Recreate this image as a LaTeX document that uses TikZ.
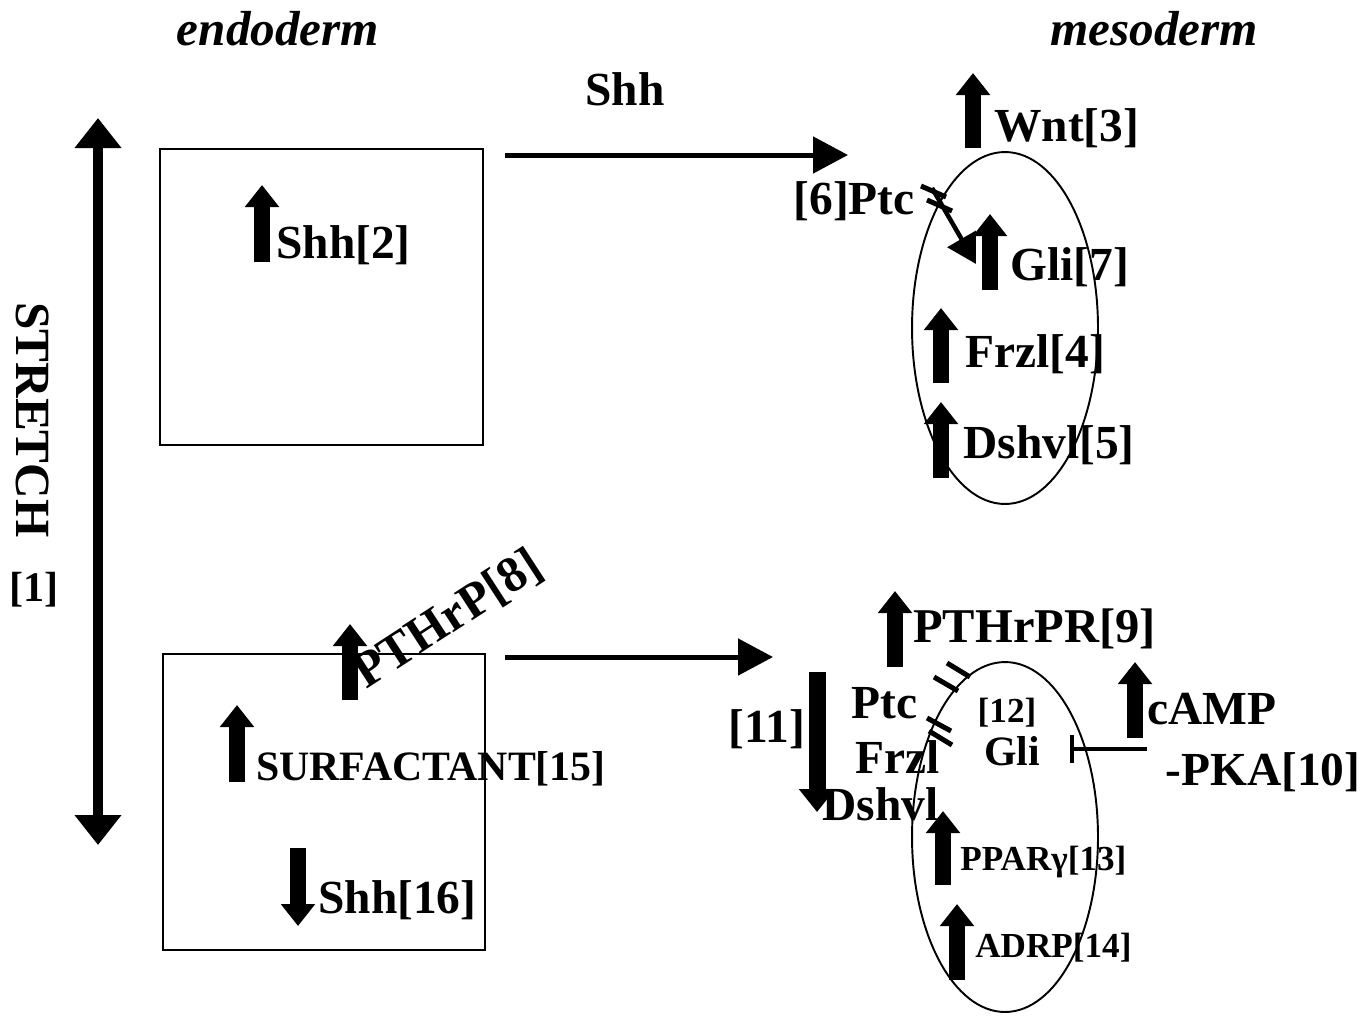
\documentclass[tikz,border=0pt]{standalone}
\usepackage{fontspec}
\setmainfont{Liberation Serif}
\usetikzlibrary{arrows.meta,shapes.geometric}
\begin{document}
\begin{tikzpicture}[x=0.02cm,y=-0.02cm,
  lbl/.style={font=\fontsize{27}{30}\selectfont\bfseries, inner sep=0pt, anchor=base west},
  mlbl/.style={font=\fontsize{23.8}{26}\selectfont\bfseries, inner sep=0pt, anchor=base west},
  slbl/.style={font=\fontsize{20}{24}\selectfont\bfseries, inner sep=0pt, anchor=base west},
  ttl/.style={font=\fontsize{28}{30}\selectfont\bfseries\itshape, inner sep=0pt, anchor=base},
  blk/.style={line width=0.32cm, -{Triangle[length=0.44cm,width=0.66cm]}},
  flow/.style={line width=0.1cm, -{Triangle[length=0.7cm,width=0.72cm]}},
  stretcharr/.style={line width=0.2cm, {Triangle[length=0.6cm,width=0.9cm]}-{Triangle[length=0.6cm,width=0.9cm]}},
  hashln/.style={line width=0.1cm},
  frame/.style={draw, line width=1.2pt, inner sep=0pt},
]
\useasboundingbox (0,0) rectangle (1371,1015);

% titles
\node[ttl] (endo) at (278,45) {endoderm};
\node[ttl] (meso) at (1154,45) {mesoderm};

% stretch
\coordinate (st1) at (98,845);
\coordinate (st2) at (98,118);
\draw[stretcharr] (st1) -- (st2);
\node[font=\fontsize{28}{30}\selectfont\bfseries, rotate=-90, inner sep=0pt] (stretch) at (33,420) {STRETCH};
\node[font=\fontsize{24}{28}\selectfont\bfseries, inner sep=0pt] (ref1) at (34,590) {[1]};

% boxes
\node[frame, minimum width=6.46cm, minimum height=5.92cm] (box1) at (321.5,297) {};
\node[frame, minimum width=6.44cm, minimum height=5.92cm] (box2) at (324,802) {};

% ellipses
\node[draw, ellipse, line width=1.1pt, inner sep=0pt, minimum width=3.72cm, minimum height=7.04cm] (ell1) at (1005,328) {};
\node[draw, ellipse, line width=1.1pt, inner sep=0pt, minimum width=3.72cm, minimum height=7.0cm] (ell2) at (1005,837) {};

% main flow arrows
\coordinate (f1s) at (505,155);
\coordinate (f1e) at (848,155);
\draw[flow] (f1s) -- (f1e);
\node[lbl, anchor=base] (shhtop) at (625,105) {Shh};
\coordinate (f2s) at (505,657);
\coordinate (f2e) at (773,657);
\draw[flow] (f2s) -- (f2e);

% top endoderm
\draw[blk] (262,262) -- (262,185);
\node[lbl] (shh2) at (276,258) {Shh[2]};

% top mesoderm
\draw[blk] (973,148) -- (973,73);
\node[lbl] (wnt) at (994,141) {Wnt[3]};
\node[lbl, anchor=base east] (ptc6) at (915,214) {[6]Ptc};
\coordinate (pa) at (932,188);
\coordinate (pb) at (976,264);
\draw[line width=0.09cm, -{Triangle[length=0.58cm,width=0.64cm]}] (pa) -- (pb);
\draw[hashln] (921,186) -- (946,197);
\draw[hashln] (927,200) -- (952,211);
\draw[blk] (990,290) -- (990,214);
\node[lbl] (gli7) at (1010,280) {Gli[7]};
\draw[blk] (941,383) -- (941,308);
\node[lbl] (frzl4) at (965,367) {Frzl[4]};
\draw[blk] (941,478) -- (941,402);
\node[lbl] (dsh5) at (963,458) {Dshvl[5]};

% bottom endoderm
\draw[blk] (350,700) -- (350,624);
\node[lbl, font=\fontsize{28.5}{30}\selectfont\bfseries, rotate=33] (pthrp) at (366,690) {PTHrP[8]};
\draw[blk] (237,782) -- (237,705);
\node[mlbl] (surf) at (256,780) {SURFACTANT[15]};
\draw[blk] (298,848) -- (298,926);
\node[lbl] (shh16) at (318,913) {Shh[16]};

% bottom mesoderm
\draw[blk] (895,667) -- (895,591);
\node[lbl, font=\fontsize{27.6}{30}\selectfont\bfseries] (pthrpr) at (913,642) {PTHrPR[9]};
\draw[line width=0.34cm, -{Triangle[length=0.46cm,width=0.7cm]}] (817,672) -- (817,812);
\node[lbl, anchor=base] (ref11) at (767,742) {[11]};
\node[lbl] (ptc) at (851,718) {Ptc};
\node[lbl] (frzl) at (855,773) {Frzl};
\node[lbl] (dsh) at (822,820) {Dshvl};
\draw[hashln] (947,663) -- (970,677);
\draw[hashln] (934,677) -- (958,691);
\draw[hashln] (927,718) -- (951,731);
\draw[hashln] (929,731) -- (952,745);
\node[slbl, anchor=base] (ref12) at (1007,722) {[12]};
\node[mlbl, anchor=base] (gli) at (1012,765) {Gli};
\draw[blk] (1135,738) -- (1135,662);
\node[lbl] (camp) at (1147,724) {cAMP};
\node[lbl] (pka) at (1165,785) {-PKA[10]};
\coordinate (inh) at (1147,749);
\draw[line width=0.08cm, -{Bar[width=0.56cm]}] (inh) -- (1070,749);
\draw[blk] (943,885) -- (943,811);
\node[slbl] (ppar) at (960,870) {PPARγ[13]};
\draw[blk] (957,980) -- (957,904);
\node[slbl] (adrp) at (975,957) {ADRP[14]};
\end{tikzpicture}
\end{document}
